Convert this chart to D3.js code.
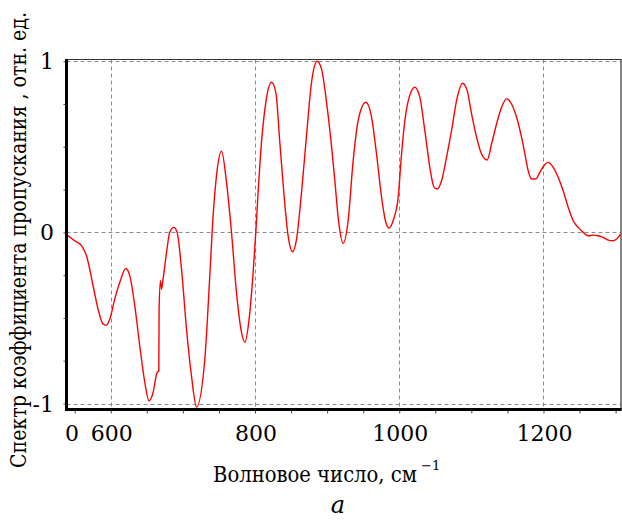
<!DOCTYPE html>
<html><head><meta charset="utf-8">
<script src="https://cdn.jsdelivr.net/npm/d3@7"></script>
<style>html,body{margin:0;padding:0;background:#fff;}svg{display:block;}</style>
</head><body>
<svg id="c" width="622" height="521"></svg>
<script>
const wavenumber = [539.4,550.1,559.4,566.3,575.5,582.4,589.3,594.0,598.6,605.5,612.5,620.8,626.4,633.3,640.2,647.2,653.1,658.7,664.2,666.6,667.0,668.9,670.3,672.5,677.3,681.8,687.4,692.0,698.1,705.0,711.9,718.9,730.4,737.3,741.9,746.6,753.5,760.5,767.4,774.3,781.3,785.9,791.8,797.4,801.1,804.3,809.0,815.0,822.9,828.8,834.4,839.9,845.9,852.0,857.6,864.5,871.4,878.4,886.0,892.2,899.2,903.7,910.7,915.3,922.2,929.1,936.1,943.0,953.7,961.6,968.5,975.5,981.4,986.0,991.5,998.5,1003.2,1007.8,1013.7,1021.6,1028.6,1035.5,1042.4,1048.4,1052.6,1058.7,1065.6,1072.5,1079.5,1087.8,1094.2,1100.3,1107.2,1114.1,1121.9,1128.0,1134.9,1141.9,1148.8,1155.7,1162.7,1169.6,1174.2,1178.8,1183.5,1189.5,1195.0,1200.6,1206.5,1213.5,1220.4,1227.3,1234.3,1241.2,1248.1,1255.1,1262.0,1268.9,1275.9,1282.8,1289.7,1295.8,1301.4,1306.9];
const transmission = [-0.016,-0.049,-0.078,-0.137,-0.312,-0.449,-0.536,-0.542,-0.507,-0.390,-0.292,-0.211,-0.254,-0.429,-0.663,-0.877,-0.985,-0.936,-0.819,-0.809,-0.449,-0.283,-0.332,-0.273,-0.117,0.000,0.029,0.000,-0.215,-0.565,-0.839,-1.02,-0.740,-0.254,0.097,0.331,0.474,0.292,0.000,-0.351,-0.585,-0.643,-0.507,-0.234,0.000,0.234,0.526,0.760,0.877,0.819,0.526,0.234,-0.020,-0.113,-0.039,0.234,0.565,0.877,1.000,0.955,0.760,0.600,0.302,0.088,-0.064,0.068,0.419,0.653,0.760,0.673,0.458,0.205,0.058,0.025,0.068,0.205,0.458,0.653,0.789,0.848,0.789,0.594,0.380,0.263,0.253,0.302,0.439,0.594,0.770,0.871,0.828,0.692,0.556,0.458,0.423,0.516,0.633,0.731,0.780,0.750,0.673,0.556,0.458,0.360,0.312,0.312,0.351,0.389,0.409,0.380,0.322,0.243,0.146,0.068,0.029,0.000,-0.020,-0.016,-0.020,-0.029,-0.045,-0.049,-0.039,-0.010];
const xGridValues = [600, 800, 1000, 1200];
const xTickLabels = ["600", "800", "1000", "1200"];
const yGridValues = [-1, 0, 1];
const yTickLabels = ["-1", "0", "1"];
const xMinorTicks = d3.range(550, 1301, 50);
const yMinorTicks = d3.range(-1, 1.01, 0.25);
const xAxisTitle = "Волновое число, см";
const xAxisTitleSup = "−1";
const yAxisTitle = "Спектр коэффициента пропускания , отн. ед.";
const caption = "а";

const font = "DejaVu Serif";
const svg = d3.select("#c");
const L = 66.5, R = 621, T = 59.5, B = 409.5;
const x = d3.scaleLinear().domain([538.6, 1307.5]).range([L, R]);
const y = d3.scaleLinear().domain([-1.035, 1.01]).range([B, T]);

// grid
const g = svg.append("g");
g.selectAll("line.vg").data(xGridValues).join("line")
  .attr("x1", d => Math.round(x(d)) + 0.5).attr("x2", d => Math.round(x(d)) + 0.5)
  .attr("y1", T).attr("y2", B)
  .attr("stroke", "#8c8c8c").attr("stroke-width", 1).attr("stroke-dasharray", "4,3");
g.selectAll("line.hg").data(yGridValues).join("line")
  .attr("y1", d => Math.round(y(d)) + 0.5).attr("y2", d => Math.round(y(d)) + 0.5)
  .attr("x1", L).attr("x2", R)
  .attr("stroke", "#8c8c8c").attr("stroke-width", 1).attr("stroke-dasharray", "4,3");

// curve
svg.append("clipPath").attr("id", "clip").append("rect")
  .attr("x", L).attr("y", T).attr("width", R - L).attr("height", B - T);
const data = wavenumber.map((w, i) => [w, transmission[i]]);
svg.append("path").datum(data)
  .attr("clip-path", "url(#clip)")
  .attr("fill", "none").attr("stroke", "#ff0000").attr("stroke-width", 1.4)
  .attr("d", d3.line().x(d => x(d[0])).y(d => y(d[1])).curve(d3.curveMonotoneX));

// frame
svg.append("line").attr("x1", L).attr("x2", R + 0.5).attr("y1", T).attr("y2", T)
  .attr("stroke", "#333").attr("stroke-width", 1.2);
svg.append("line").attr("x1", R).attr("x2", R).attr("y1", T).attr("y2", B)
  .attr("stroke", "#333").attr("stroke-width", 1.2);

// axes
const xAxis = d3.axisBottom(x).tickValues(xMinorTicks).tickSize(4).tickFormat("");
const xa = svg.append("g").attr("transform", `translate(0,${B})`).call(xAxis);
xa.select(".domain").remove();
xa.selectAll(".tick line").attr("stroke", "#444").attr("stroke-width", 1);
const yAxis = d3.axisLeft(y).tickValues(yMinorTicks).tickSize(3).tickFormat("");
const ya = svg.append("g").attr("transform", `translate(${L},0)`).call(yAxis);
ya.select(".domain").remove();
ya.selectAll(".tick line").attr("stroke", "#444").attr("stroke-width", 1);

svg.append("line").attr("x1", L).attr("x2", L).attr("y1", T - 0.5).attr("y2", B + 1.5)
  .attr("stroke", "#000").attr("stroke-width", 3);
svg.append("line").attr("x1", L - 1.5).attr("x2", R + 0.6).attr("y1", B).attr("y2", B)
  .attr("stroke", "#000").attr("stroke-width", 3);

// tick labels
svg.selectAll("text.xl").data(xGridValues).join("text")
  .attr("x", d => x(d) + 1).attr("y", 441).attr("text-anchor", "middle")
  .attr("font-family", font).attr("font-size", 22).attr("fill", "#000")
  .text((d, i) => xTickLabels[i]);
svg.append("text").attr("x", 65).attr("y", 441)
  .attr("font-family", font).attr("font-size", 22).attr("fill", "#000").text("0");
svg.selectAll("text.yl").data(yGridValues).join("text")
  .attr("x", 54).attr("y", d => y(d) + 8).attr("text-anchor", "end")
  .attr("font-family", font).attr("font-size", 22).attr("fill", "#000")
  .text((d, i) => yTickLabels[i]);

// axis titles
svg.append("text").attr("x", 213).attr("y", 482)
  .attr("font-family", font).attr("font-size", 22).attr("fill", "#000")
  .attr("textLength", 204).attr("lengthAdjust", "spacingAndGlyphs")
  .text(xAxisTitle);
svg.append("text").attr("x", 421).attr("y", 470)
  .attr("font-family", font).attr("font-size", 13).attr("fill", "#000")
  .text(xAxisTitleSup);
svg.append("text").attr("transform", "translate(26,240) rotate(-90)")
  .attr("text-anchor", "middle")
  .attr("font-family", font).attr("font-size", 22).attr("fill", "#000")
  .attr("textLength", 456).attr("lengthAdjust", "spacingAndGlyphs")
  .text(yAxisTitle);
svg.append("text").attr("x", 338).attr("y", 513).attr("text-anchor", "middle")
  .attr("font-family", font).attr("font-style", "italic").attr("font-size", 24).attr("fill", "#000")
  .text(caption);
</script>
</body></html>
